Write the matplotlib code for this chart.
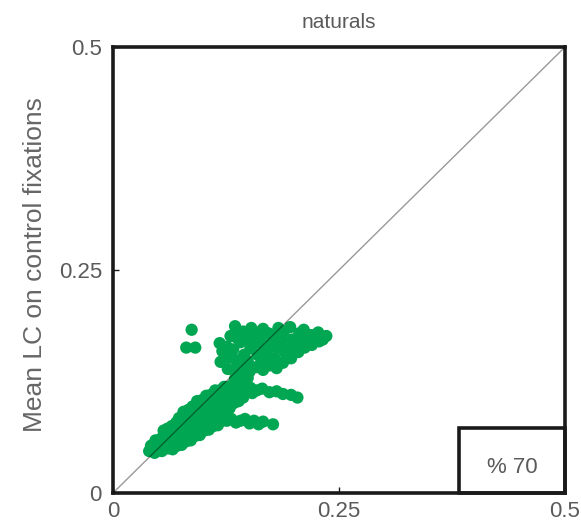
import matplotlib
matplotlib.use("Agg")
import matplotlib.pyplot as plt
from matplotlib.patches import Rectangle

plt.rcParams['font.family'] = ['Liberation Sans', 'DejaVu Sans']

title = "naturals"
ylabel = "Mean LC on control fixations"
tick_values = [0, 0.25, 0.5]
tick_labels = ["0", "0.25", "0.5"]
percent_label = "% 70"

# lower cluster: mean LC at fixated vs. control locations
lower_x = [0.04, 0.042,
           0.046, 0.044, 0.047,
           0.051, 0.049, 0.052,
           0.054, 0.057, 0.055, 0.056,
           0.061, 0.059, 0.062, 0.06,
           0.066, 0.064, 0.067, 0.065,
           0.071, 0.069, 0.072, 0.07, 0.073,
           0.076, 0.074, 0.077, 0.075, 0.078,
           0.081, 0.079, 0.082, 0.08, 0.083,
           0.086, 0.084, 0.087, 0.085, 0.088,
           0.091, 0.089, 0.092, 0.09, 0.093,
           0.096, 0.094, 0.097, 0.095, 0.098,
           0.101, 0.099, 0.102, 0.1, 0.103,
           0.106, 0.104, 0.107, 0.105, 0.108,
           0.111, 0.109, 0.112, 0.11, 0.113,
           0.116, 0.114, 0.117, 0.115, 0.118,
           0.121, 0.119, 0.122, 0.12, 0.123,
           0.126, 0.124, 0.127, 0.125, 0.128,
           0.131, 0.129, 0.132, 0.13, 0.133,
           0.136, 0.134, 0.137, 0.135,
           0.141, 0.139, 0.142, 0.14,
           0.146, 0.144, 0.147,
           0.151, 0.149, 0.152,
           0.156, 0.154,
           0.161, 0.159,
           0.166, 0.177,
           0.165, 0.173, 0.181, 0.188, 0.197, 0.204,
           0.135, 0.143, 0.149]
lower_y = [0.047, 0.053,
           0.045, 0.051, 0.059,
           0.048, 0.055, 0.06,
           0.047, 0.057, 0.063, 0.07,
           0.05, 0.056, 0.066, 0.072,
           0.049, 0.059, 0.068, 0.075,
           0.053, 0.061, 0.068, 0.079, 0.084,
           0.054, 0.064, 0.073, 0.08, 0.091,
           0.058, 0.065, 0.076, 0.085, 0.093,
           0.059, 0.07, 0.077, 0.089, 0.097,
           0.064, 0.071, 0.082, 0.09, 0.103,
           0.065, 0.076, 0.084, 0.096, 0.104,
           0.07, 0.077, 0.089, 0.097, 0.109,
           0.071, 0.082, 0.09, 0.102, 0.11,
           0.075, 0.083, 0.095, 0.103, 0.115,
           0.076, 0.088, 0.096, 0.108, 0.115,
           0.081, 0.089, 0.101, 0.109, 0.119,
           0.081, 0.094, 0.102, 0.114, 0.119,
           0.083, 0.095, 0.107, 0.115, 0.122,
           0.079, 0.101, 0.109, 0.119,
           0.081, 0.103, 0.114, 0.121,
           0.083, 0.107, 0.117,
           0.078, 0.113, 0.118,
           0.081, 0.112,
           0.077, 0.115,
           0.08, 0.077,
           0.117, 0.113, 0.114, 0.111, 0.11, 0.107,
           0.128, 0.134, 0.129]

# upper cluster
upper_x = [0.119, 0.121, 0.118,
           0.127, 0.129, 0.126, 0.13,
           0.134, 0.136, 0.133, 0.137, 0.135,
           0.142, 0.145, 0.141, 0.144,
           0.151, 0.149, 0.152, 0.15, 0.153,
           0.158, 0.16, 0.157, 0.159,
           0.166, 0.164, 0.167, 0.163, 0.166,
           0.173, 0.171, 0.174, 0.172,
           0.181, 0.179, 0.182, 0.18, 0.183,
           0.188, 0.19, 0.187, 0.189,
           0.197, 0.195, 0.198, 0.196,
           0.205, 0.203, 0.206,
           0.212, 0.214, 0.211,
           0.22, 0.219,
           0.228, 0.227,
           0.236, 0.232]
upper_y = [0.147, 0.159, 0.168,
           0.139, 0.152, 0.164, 0.176,
           0.137, 0.149, 0.161, 0.174, 0.187,
           0.141, 0.155, 0.169, 0.181,
           0.136, 0.148, 0.162, 0.173, 0.185,
           0.141, 0.155, 0.168, 0.18,
           0.138, 0.15, 0.162, 0.174, 0.184,
           0.143, 0.156, 0.167, 0.179,
           0.14, 0.151, 0.163, 0.174, 0.185,
           0.146, 0.158, 0.17, 0.181,
           0.151, 0.161, 0.172, 0.186,
           0.158, 0.168, 0.179,
           0.163, 0.174, 0.183,
           0.166, 0.177,
           0.17, 0.18,
           0.176, 0.172]

# isolated points left of the upper cluster
extra_x = [0.087, 0.081, 0.091]
extra_y = [0.183, 0.163, 0.163]

green = '#00a651'
spine_color = '#1a1a1a'
text_color = '#5a5a5a'

fig = plt.figure(figsize=(5.81, 5.24), dpi=100)
ax = fig.add_axes([113 / 581, 1 - 493 / 524, 452 / 581, 446 / 524])

xs = lower_x + upper_x + extra_x
ys = lower_y + upper_y + extra_y
ax.scatter(xs, ys, s=78, color=green, edgecolors='none', zorder=2)

ax.plot([0, 0.5], [0, 0.5], color='black', alpha=0.4, lw=1.0, zorder=3)

ax.set_xlim(0, 0.5)
ax.set_ylim(0, 0.5)
ax.set_xticks(tick_values)
ax.set_xticklabels(tick_labels)
ax.set_yticks(tick_values)
ax.set_yticklabels(tick_labels)
ax.tick_params(direction='in', length=4, width=1, colors=spine_color,
               labelcolor=text_color, labelsize=16)
ax.tick_params(axis='x', pad=6)
ax.tick_params(axis='y', pad=8)

for sp in ax.spines.values():
    sp.set_linewidth(2.6)
    sp.set_color(spine_color)

ax.set_title(title, fontsize=15, color=text_color, pad=14)
fig.text(35 / 581, 1 - 265 / 524, ylabel, rotation=90, ha='center', va='center',
         fontsize=19, color='#666666')

ax.add_patch(Rectangle((0.383, 0), 0.117, 0.073, fill=False, lw=2.6,
                       ec=spine_color, zorder=4, clip_on=False))
ax.text(0.4415, 0.029, percent_label, ha='center', va='center', fontsize=16,
        color=text_color, zorder=5)

fig.savefig('out.png', dpi=100)
